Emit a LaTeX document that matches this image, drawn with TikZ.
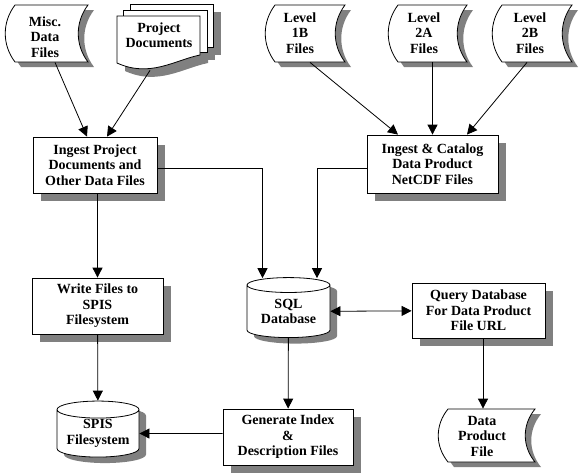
\documentclass[tikz,border=0pt]{standalone}
\usepackage{fontspec}
\setmainfont{Liberation Serif}
\usetikzlibrary{shapes.geometric,shadows,arrows.meta}

% outline of a stored data file: left x, right x, top y, bottom y
\newcommand{\storedpath}[4]{(#1,#3) -- (#2,#3)
  .. controls ({#2-13},{#3+0.3*(#4-#3)}) and ({#2-13},{#4-0.3*(#4-#3)}) .. (#2,#4)
  -- (#1,#4)
  .. controls ({#1-13},{#4-0.3*(#4-#3)}) and ({#1-13},{#3+0.3*(#4-#3)}) .. cycle}

\begin{document}
\begin{tikzpicture}[x=1pt, y=-1pt, line width=0.8pt, >={Triangle[length=10pt,width=10pt]},
  txt/.style={align=center, inner sep=0pt, font=\fontsize{14}{15.5}\selectfont\bfseries},
  proc/.style={txt, draw, fill=white, drop shadow={shadow xshift=8pt, shadow yshift=-8pt, fill=gray, opacity=1}},
  db/.style={txt, cylinder, shape border rotate=90, aspect=0.27, draw, fill=white, drop shadow={shadow xshift=7pt, shadow yshift=-6pt, fill=gray, opacity=1}}]
\useasboundingbox (0,0) rectangle (585,475);

% stored data files
\foreach \a/\b/\c/\d in {15/88/5/62, 275/345/5/62, 398/467/5/62, 502/572/5/62, 448/535/409/462} {
  \fill[gray, shift={(6,5)}] \storedpath{\a}{\b}{\c}{\d};
  \draw[fill=white] \storedpath{\a}{\b}{\c}{\d};
}

% project documents
\fill[gray] (138,12) rectangle (221,55);
\fill[gray] (131,18) rectangle (215,60);
\fill[gray] (125,24) -- (208,24) -- (208,63) .. controls (183,68) and (158,86) .. (125,71) -- cycle;
\draw[fill=white] (130,4) rectangle (213,47);
\draw[fill=white] (123,10) rectangle (207,52);
\draw[fill=white] (117,16) -- (200,16) -- (200,55) .. controls (175,60) and (150,78) .. (117,63) -- cycle;

\node (misc) at (45,37) [txt, minimum width=70pt, minimum height=50pt] {Misc.\\Data\\Files};
\node (docs) at (159,35) [txt, minimum width=80pt, minimum height=38pt] {Project\\Documents};
\node (l1b) at (300,33) [txt, minimum height=58pt] {Level\\1B\\Files};
\node (l2a) at (424,33) [txt, minimum height=58pt] {Level\\2A\\Files};
\node (l2b) at (530,33) [txt, minimum height=58pt] {Level\\2B\\Files};

\node (ingest) at (95,165) [proc, minimum width=124pt, minimum height=56pt] {Ingest Project\\Documents and\\Other Data Files};
\node (catalog) at (432.5,164) [proc, minimum width=131pt, minimum height=58pt] {Ingest \& Catalog\\Data Product\\NetCDF Files};
\node (write) at (97.5,306) [proc, minimum width=131pt, minimum height=56pt] {Write Files to\\SPIS\\Filesystem};
\node (sql) at (288.5,311.5) [db, minimum width=83pt, minimum height=60pt] {SQL\\Database};
\node (query) at (478.5,310.5) [proc, minimum width=133pt, minimum height=55pt] {Query Database\\For Data Product\\File URL};
\node (spis) at (98,433.5) [db, minimum width=82pt, minimum height=56pt] {SPIS\\Filesystem};
\node (generate) at (288,437) [proc, minimum width=130pt, minimum height=56pt] {Generate Index\\\&\\Description Files};
\node (product) at (482,436) [txt, minimum height=54pt] {Data\\Product\\File};

\draw[->] ([xshift=10pt]misc.south) -- ([xshift=-8pt]ingest.north);
\draw[->] ([xshift=-9pt,yshift=-16pt]docs.south) -- ([xshift=12pt]ingest.north);
\draw[->] ([xshift=10pt]l1b.south) -- ([xshift=-34.5pt]catalog.north);
\draw[->] (catalog.north |- l2a.south) -- (catalog.north);
\draw[->] ([xshift=-3pt]l2b.south) -- ([xshift=34.5pt]catalog.north);
\draw[->] ([yshift=-3pt]ingest.east) -| ([xshift=-26pt,yshift=-1pt]sql.north);
\draw[->] ([yshift=-4pt]catalog.west) -| ([xshift=28.5pt,yshift=-1pt]sql.north);
\draw[->] (ingest.south -| write.north) -- (write.north);
\draw[->] (write) -- (spis);
\draw[->] (sql) -- (generate);
\draw[->] (spis -| generate.west) -- (spis);
\draw[<->] (sql) -- (query);
\draw[->] ([xshift=4.5pt]query.south) -- ([xshift=4.5pt]query.south |- product.north);
\end{tikzpicture}
\end{document}
